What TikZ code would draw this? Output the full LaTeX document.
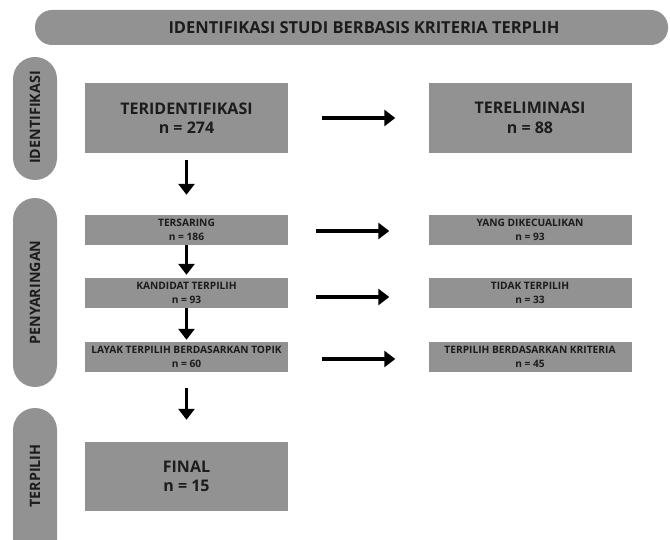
\documentclass[tikz,border=0pt]{standalone}
\usepackage{fontspec}
\setmainfont{Open Sans}
\usetikzlibrary{arrows.meta,positioning}
\definecolor{boxgray}{RGB}{146,146,146}
\definecolor{txt}{RGB}{28,28,28}
\begin{document}
\begin{tikzpicture}[x=1pt,y=-1pt,
  every node/.style={font=\bfseries, text=txt},
  bigbox/.style={fill=boxgray, minimum width=203pt, minimum height=70pt, align=center, font=\bfseries\fontsize{16}{19.5}\selectfont},
  smallbox/.style={fill=boxgray, minimum width=203pt, minimum height=30pt, align=center, inner sep=0pt, font=\bfseries\fontsize{10.2}{13.5}\selectfont},
  pill/.style={fill=boxgray, minimum width=44pt, rounded corners=22pt, inner sep=0pt},
  pilltext/.style={rotate=90, font=\bfseries\fontsize{14.3}{16}\selectfont},
  arr/.style={line width=3.5pt, -{Triangle[length=11pt,width=16pt]}}
]
\useasboundingbox (0,0) rectangle (670,540);
\clip (0,0) rectangle (670,540);
% banner
\node[fill=boxgray, minimum width=633pt, minimum height=35pt, rounded corners=17pt] (banner) at (351.5,27.5) {};
\node[font=\bfseries\fontsize{16.5}{18}\selectfont] (title) at (364,28) {IDENTIFIKASI STUDI BERBASIS KRITERIA TERPLIH};
% side pills
\node[pill, minimum height=123pt] (p1) at (35,118.5) {};
\node[pilltext] (p1t) at (35,117.5) {IDENTIFIKASI};
\node[pill, minimum height=189pt] (p2) at (35,292.5) {};
\node[pilltext] (p2t) at (35,292.5) {PENYARINGAN};
\node[pill, minimum height=160pt] (p3) at (35,488) {};
\node[pilltext] (p3t) at (35,476) {TERPILIH};
% boxes
\node[bigbox] (tid) at (186.5,118) {TERIDENTIFIKASI\\n = 274};
\node[bigbox] (tel) at (530,118) {TERELIMINASI\\n = 88};
\node[smallbox] (ts) at (186.5,230) {TERSARING\\n = 186};
\node[smallbox] (yd) at (530,230) {YANG DIKECUALIKAN\\n = 93};
\node[smallbox] (kt) at (186.5,293) {KANDIDAT TERPILIH\\n = 93};
\node[smallbox] (tt) at (530,293) {TIDAK TERPILIH\\n = 33};
\node[smallbox] (lt) at (186.5,357) {LAYAK TERPILIH BERDASARKAN TOPIK\\n = 60};
\node[smallbox] (tbk) at (530,357) {TERPILIH BERDASARKAN KRITERIA\\n = 45};
\node[bigbox, minimum height=69pt] (fin) at (186.5,476.5) {FINAL\\n = 15};
% horizontal arrows
\draw[arr, shorten <=34pt, shorten >=33pt] (tid.east) -- (tel.west);
\draw[arr, shorten <=28pt, shorten >=39pt] ([yshift=-1pt]ts.east) -- ([yshift=-1pt]yd.west);
\draw[arr, shorten <=28pt, shorten >=39pt] ([yshift=-4pt]kt.east) -- ([yshift=-4pt]tt.west);
\draw[arr, shorten <=34pt, shorten >=33pt] ([yshift=-2pt]lt.east) -- ([yshift=-2pt]tbk.west);
% vertical arrows
\draw[arr, shorten <=7pt, shorten >=20pt] (tid.south) -- (ts.north);
\draw[arr, shorten >=3pt] (ts.south) -- (kt.north);
\draw[arr, shorten >=2pt] (kt.south) -- (lt.north);
\draw[arr, shorten <=16pt, shorten >=22pt] (lt.south) -- (fin.north);
\end{tikzpicture}
\end{document}
